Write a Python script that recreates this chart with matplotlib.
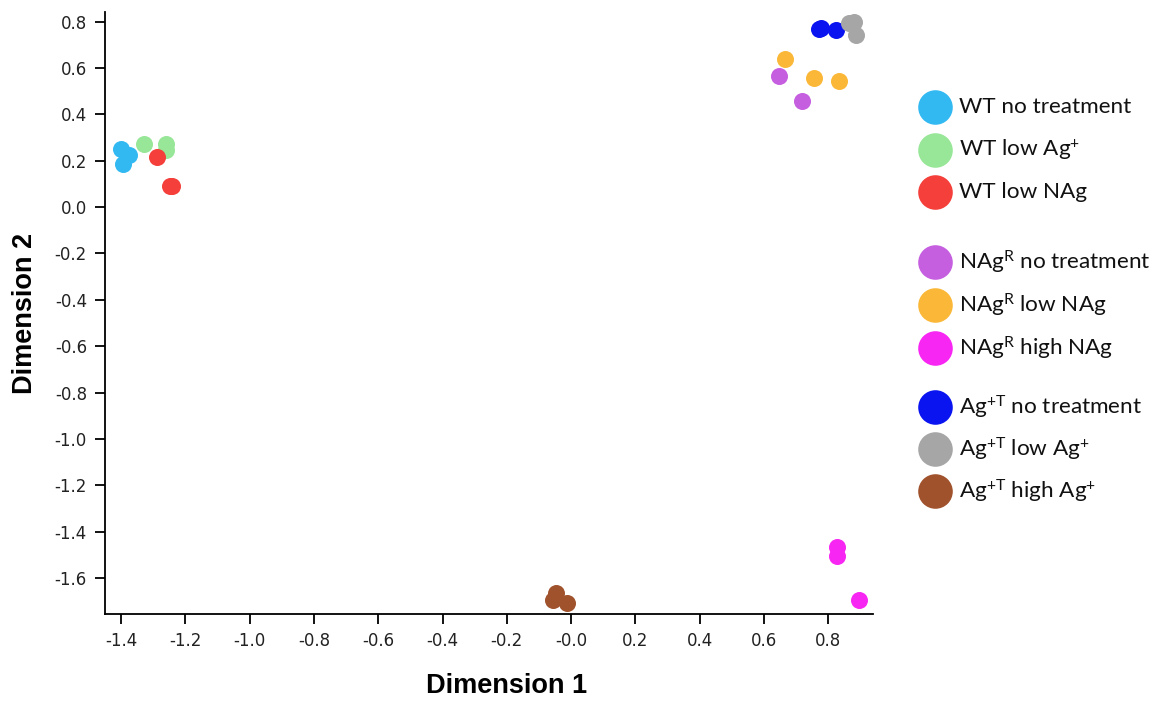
import matplotlib
matplotlib.use("Agg")
import matplotlib.pyplot as plt

# MDS coordinates per sample group
groups = [
    "WT no treatment", "WT low Ag$^{+}$", "WT low NAg",
    "NAg$^{\\mathrm{R}}$ no treatment", "NAg$^{\\mathrm{R}}$ low NAg", "NAg$^{\\mathrm{R}}$ high NAg",
    "Ag$^{+\\mathrm{T}}$ no treatment", "Ag$^{+\\mathrm{T}}$ low Ag$^{+}$", "Ag$^{+\\mathrm{T}}$ high Ag$^{+}$",
]
colors = ["#33B9F2", "#98E698", "#F43F3A",
          "#C55FE0", "#FBB838", "#F826F2",
          "#0A14F0", "#A6A6A6", "#A0522D"]

wt_none_x = [-1.401, -1.374, -1.394]
wt_none_y = [0.249, 0.224, 0.184]
wt_ag_x = [-1.330, -1.259, -1.261]
wt_ag_y = [0.270, 0.272, 0.246]
wt_nag_x = [-1.287, -1.247, -1.241]
wt_nag_y = [0.217, 0.092, 0.089]

nagr_none_x = [0.647, 0.719]
nagr_none_y = [0.566, 0.458]
nagr_low_x = [0.666, 0.754, 0.832]
nagr_low_y = [0.637, 0.555, 0.543]
nagr_high_x = [0.826, 0.826, 0.894]
nagr_high_y = [-1.467, -1.504, -1.694]

agt_none_x = [0.772, 0.778, 0.823]
agt_none_y = [0.766, 0.774, 0.764]
agt_low_x = [0.863, 0.880, 0.886]
agt_low_y = [0.792, 0.799, 0.741]
agt_high_x = [-0.047, -0.055, -0.013]
agt_high_y = [-1.665, -1.694, -1.708]

xs = [wt_none_x, wt_ag_x, wt_nag_x, nagr_none_x, nagr_low_x, nagr_high_x,
      agt_none_x, agt_low_x, agt_high_x]
ys = [wt_none_y, wt_ag_y, wt_nag_y, nagr_none_y, nagr_low_y, nagr_high_y,
      agt_none_y, agt_low_y, agt_high_y]

x_ticks = [-1.4, -1.2, -1.0, -0.8, -0.6, -0.4, -0.2, 0.0, 0.2, 0.4, 0.6, 0.8]
x_tick_labels = ["-1.4", "-1.2", "-1.0", "-0.8", "-0.6", "-0.4", "-0.2", "-0.0",
                 "0.2", "0.4", "0.6", "0.8"]
y_ticks = [0.8, 0.6, 0.4, 0.2, 0.0, -0.2, -0.4, -0.6, -0.8, -1.0, -1.2, -1.4, -1.6]
y_tick_labels = ["0.8", "0.6", "0.4", "0.2", "0.0", "-0.2", "-0.4", "-0.6", "-0.8",
                 "-1.0", "-1.2", "-1.4", "-1.6"]

plt.rcParams["mathtext.fontset"] = "custom"
plt.rcParams["mathtext.rm"] = "Lato"
plt.rcParams["mathtext.it"] = "Lato:italic"
plt.rcParams["mathtext.bf"] = "Lato:bold"

W, H = 1163, 702
fig = plt.figure(figsize=(W / 100, H / 100), dpi=100)
ax = fig.add_axes([105 / W, 1 - 614 / H, (873 - 105) / W, (614 - 12) / H])

for gx, gy, c in zip(xs, ys, colors):
    ax.scatter(gx, gy, s=150, color=c, linewidths=0, zorder=3)

ax.set_xlim(-1.45, 0.939)
ax.set_ylim(-1.754, 0.841)
ax.set_xticks(x_ticks)
ax.set_xticklabels(x_tick_labels)
ax.set_yticks(y_ticks)
ax.set_yticklabels(y_tick_labels)
for s in ("top", "right"):
    ax.spines[s].set_visible(False)
for s in ("left", "bottom"):
    ax.spines[s].set_linewidth(1.3)
ax.tick_params(direction="out", length=7, width=1.3, labelsize=12,
               colors="black", pad=6)
for lab in ax.get_xticklabels() + ax.get_yticklabels():
    lab.set_family("DejaVu Sans")
    lab.set_color("#222222")

fig.text(507 / W, 1 - 686 / H, "Dimension 1", ha="center", va="center",
         fontsize=19.5, fontweight="bold", family="Liberation Sans")
fig.text(25 / W, 1 - 313 / H, "Dimension 2", ha="center", va="center",
         rotation=90, fontsize=19.5, fontweight="bold", family="Liberation Sans")

# Manual legend laid out in pixel coordinates
leg = fig.add_axes([0, 0, 1, 1], facecolor="none")
leg.set_xlim(0, W)
leg.set_ylim(H, 0)
leg.axis("off")
row_y = [107, 150, 192, 262, 305, 348, 407, 449, 491]
for yy, lab, c in zip(row_y, groups, colors):
    leg.scatter([935], [yy], s=620, color=c, linewidths=0)
    leg.text(959, yy, lab, ha="left", va="center", fontsize=16.2,
             family="Lato", color="#111111")

fig.savefig("out.png", dpi=100)
